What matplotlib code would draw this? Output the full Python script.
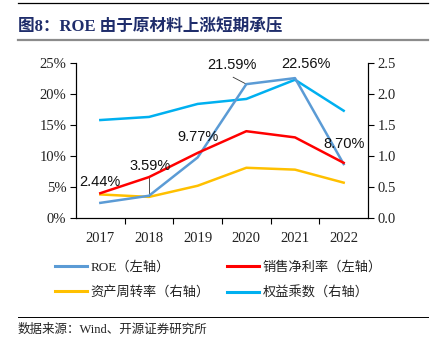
import matplotlib
matplotlib.use("Agg")
import matplotlib.pyplot as plt
from matplotlib.lines import Line2D

years = ["2017", "2018", "2019", "2020", "2021", "2022"]
roe = [2.44, 3.59, 9.77, 21.59, 22.56, 8.70]
net_margin = [4.0, 6.6, 10.5, 14.0, 13.0, 8.9]
asset_turnover = [0.38, 0.34, 0.52, 0.81, 0.78, 0.57]
equity_multiplier = [1.58, 1.63, 1.84, 1.92, 2.23, 1.73]
roe_labels = ["2.44%", "3.59%", "9.77%", "21.59%", "22.56%", "8.70%"]

serif = ["Liberation Serif", "Noto Sans CJK SC"]
c_roe, c_margin, c_turn, c_mult = "#5B9BD5", "#FF0000", "#FFC000", "#00B0F0"

fig = plt.figure(figsize=(4.34, 3.45), dpi=100)
ax = fig.add_axes([76 / 434, 1 - 218 / 345, 292 / 434, 155 / 345])
ax2 = ax.twinx()

x = list(range(len(years)))
ax.plot(x, roe, color=c_roe, lw=1.8, zorder=3)
ax.plot(x, net_margin, color=c_margin, lw=1.8, zorder=3)
ax2.plot(x, asset_turnover, color=c_turn, lw=1.8)
ax2.plot(x, equity_multiplier, color=c_mult, lw=1.8)

ax.set_xlim(-0.5, 5.5)
ax.set_ylim(0, 25)
ax2.set_ylim(0, 2.5)
ax.set_yticks([0, 5, 10, 15, 20, 25])
ax.set_yticklabels([f"{v}%" for v in [0, 5, 10, 15, 20, 25]])
ax2.set_yticks([0, 0.5, 1.0, 1.5, 2.0, 2.5])
ax2.set_yticklabels([f"{v:.1f}" for v in [0, 0.5, 1.0, 1.5, 2.0, 2.5]])
ax.set_xticks(x)
ax.set_xticklabels(years)
ax.set_xticks([i + 0.5 for i in x[:-1]], minor=True)
ax.tick_params(axis="x", which="major", length=0, pad=10)
ax.tick_params(axis="x", which="minor", length=4, direction="out", width=0.8)

for a in (ax, ax2):
    a.spines["top"].set_visible(False)
    for s in a.spines.values():
        s.set_linewidth(0.8)
    a.tick_params(axis="y", length=4, width=0.8, direction="out", pad=3)
    for lab in a.get_yticklabels() + a.get_xticklabels():
        lab.set_family(serif)
        lab.set_fontsize(10.5)
        lab.set_color("#222222")
ax.set_zorder(ax2.get_zorder() + 1)
ax.patch.set_visible(False)

# data labels for ROE
label_pos = [(-0.01, 5.8), (1.03, 8.4), (2.0, 13.1), (2.71, 24.7), (4.23, 24.8), (5.0, 11.9)]
for (lx, ly), t in zip(label_pos, roe_labels):
    ax.text(lx, ly, t, ha="center", va="center", fontsize=10.5,
            family="Liberation Sans", color="#111111", clip_on=False)
ax.plot([1.0, 1.0], [roe[1], 6.4], color="#333333", lw=0.6)
ax.plot([2.73, 3.0], [22.7, roe[3]], color="#333333", lw=0.6)

# legend
handles = [
    Line2D([], [], color=c_roe, lw=2.2),
    Line2D([], [], color=c_turn, lw=2.2),
    Line2D([], [], color=c_margin, lw=2.2),
    Line2D([], [], color=c_mult, lw=2.2),
]
names = ["ROE（左轴）", "资产周转率（右轴）", "销售净利率（左轴）", "权益乘数（右轴）"]
leg = fig.legend(handles, names, loc="upper left", bbox_to_anchor=(55 / 434, 1 - 261 / 345),
                 ncol=2, frameon=False, borderpad=0, borderaxespad=0, handlelength=2.4,
                 handletextpad=0.3, columnspacing=1.3, labelspacing=0.95,
                 prop={"family": serif, "size": 9.5})
for t in leg.get_texts():
    t.set_family(serif)
    t.set_color("#222222")

# title, header lines and source
fig.text(18 / 434, 1 - 27 / 345, "图8：ROE 由于原材料上涨短期承压", ha="left", va="center",
         fontsize=12, fontweight="bold", family=serif, color="#1F2D6B")
fig.add_artist(Line2D([18 / 434, 428 / 434], [1 - 3 / 345] * 2, color="black", lw=0.9))
fig.add_artist(Line2D([18 / 434, 428 / 434], [1 - 40 / 345] * 2, color="#8C8C8C", lw=1.6))
fig.add_artist(Line2D([18 / 434, 428 / 434], [1 - 317 / 345] * 2, color="black", lw=0.7))
fig.text(18 / 434, 1 - 330 / 345, "数据来源：Wind、开源证券研究所", ha="left", va="center",
         fontsize=9, family=serif, color="#222222")

fig.savefig("out.png", dpi=100)
